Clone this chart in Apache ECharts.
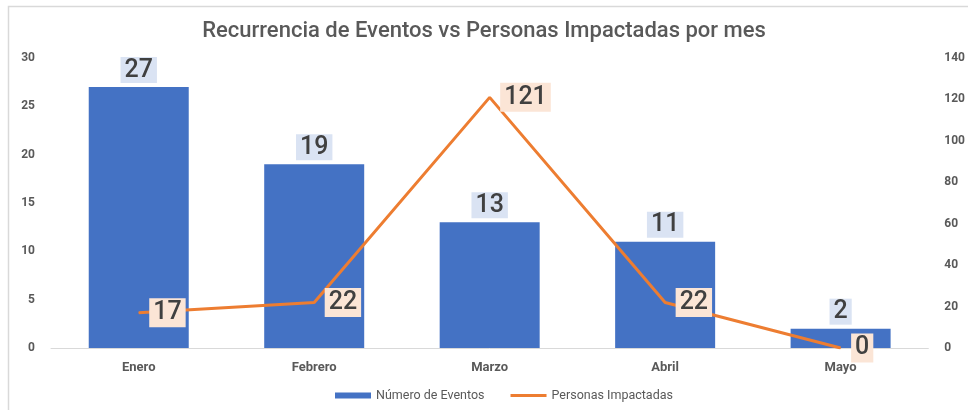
<!DOCTYPE html>
<html>
<head>
<meta charset="utf-8">
<script src="https://cdn.jsdelivr.net/npm/echarts@6/dist/echarts.min.js"></script>
<style>
  html, body { margin: 0; padding: 0; background: #fff; }
  #chart { width: 968px; height: 410px; }
</style>
</head>
<body>
<div id="chart"></div>
<script>
// datos
let meses = ['Enero', 'Febrero', 'Marzo', 'Abril', 'Mayo']
let eventos = [27, 19, 13, 11, 2]
let personas = [17, 22, 121, 22, 0]
let nombreEventos = 'Número de Eventos'
let nombrePersonas = 'Personas Impactadas'
let titulo = 'Recurrencia de Eventos vs Personas Impactadas por mes'

let chart = echarts.init(document.getElementById('chart'))
let gris = '#595959'

let option = {
  animation: false,
  title: {
    text: titulo,
    left: 'center',
    top: 15,
    textStyle: {
      fontFamily: 'Roboto, sans-serif',
      fontSize: 22,
      fontWeight: 500,
      color: gris
    }
  },
  graphic: [
    { //marco
      type: 'rect',
      shape: { x: 8.5, y: 6.5, width: 1000, height: 500 },
      style: { fill: 'none', stroke: '#d9d9d9', lineWidth: 1.5 },
      silent: true
    }
  ],
  legend: {
    bottom: 3,
    left: 330,
    itemGap: 26,
    itemWidth: 36,
    itemHeight: 6,
    textStyle: { color: gris, fontSize: 12.5, fontFamily: 'Roboto, sans-serif' },
    data: [
      { name: nombreEventos, icon: 'rect' },
      { name: nombrePersonas, icon: 'path://M0,0 L36,0 L36,3 L0,3 Z' }
    ]
  },
  grid: { left: 51, right: 35, top: 58, bottom: 62 },
  xAxis: {
    type: 'category',
    data: meses,
    axisTick: { show: false },
    axisLine: { lineStyle: { color: '#d9d9d9', width: 1 } },
    axisLabel: {
      color: gris,
      fontSize: 13,
      fontWeight: 'bold',
      margin: 13,
      fontFamily: 'Roboto, sans-serif'
    }
  },
  yAxis: [
    {
      type: 'value',
      min: 0,
      max: 30,
      interval: 5,
      splitLine: { show: false },
      axisLabel: {
        color: gris,
        fontSize: 12,
        fontWeight: 'bold',
        margin: 16,
        fontFamily: 'Roboto, sans-serif'
      }
    },
    {
      type: 'value',
      min: 0,
      max: 140,
      interval: 20,
      splitLine: { show: false },
      axisLabel: {
        color: gris,
        fontSize: 12,
        fontWeight: 'bold',
        margin: 16,
        fontFamily: 'Roboto, sans-serif'
      }
    }
  ],
  series: [
    {
      name: nombreEventos,
      type: 'bar',
      data: eventos,
      barWidth: 100,
      itemStyle: { color: '#4472c4' },
      label: {
        show: true,
        position: 'top',
        distance: 4,
        fontSize: 25,
        fontWeight: 500,
        color: '#404040',
        fontFamily: 'Roboto, sans-serif',
        backgroundColor: '#dae3f3',
        padding: [1, 4, 0, 4]
      }
    },
    {
      name: nombrePersonas,
      type: 'line',
      yAxisIndex: 1,
      data: personas,
      symbol: 'circle',
      symbolSize: 1,
      showSymbol: true,
      lineStyle: { color: '#ed7d31', width: 3 },
      itemStyle: { color: '#ed7d31' },
      label: {
        show: true,
        position: 'right',
        distance: 10,
        fontSize: 25,
        fontWeight: 500,
        color: '#404040',
        fontFamily: 'Roboto, sans-serif',
        backgroundColor: '#fbe5d6',
        padding: [3, 4, 1, 4]
      },
      z: 5
    }
  ]
}

chart.setOption(option)
</script>
</body>
</html>
